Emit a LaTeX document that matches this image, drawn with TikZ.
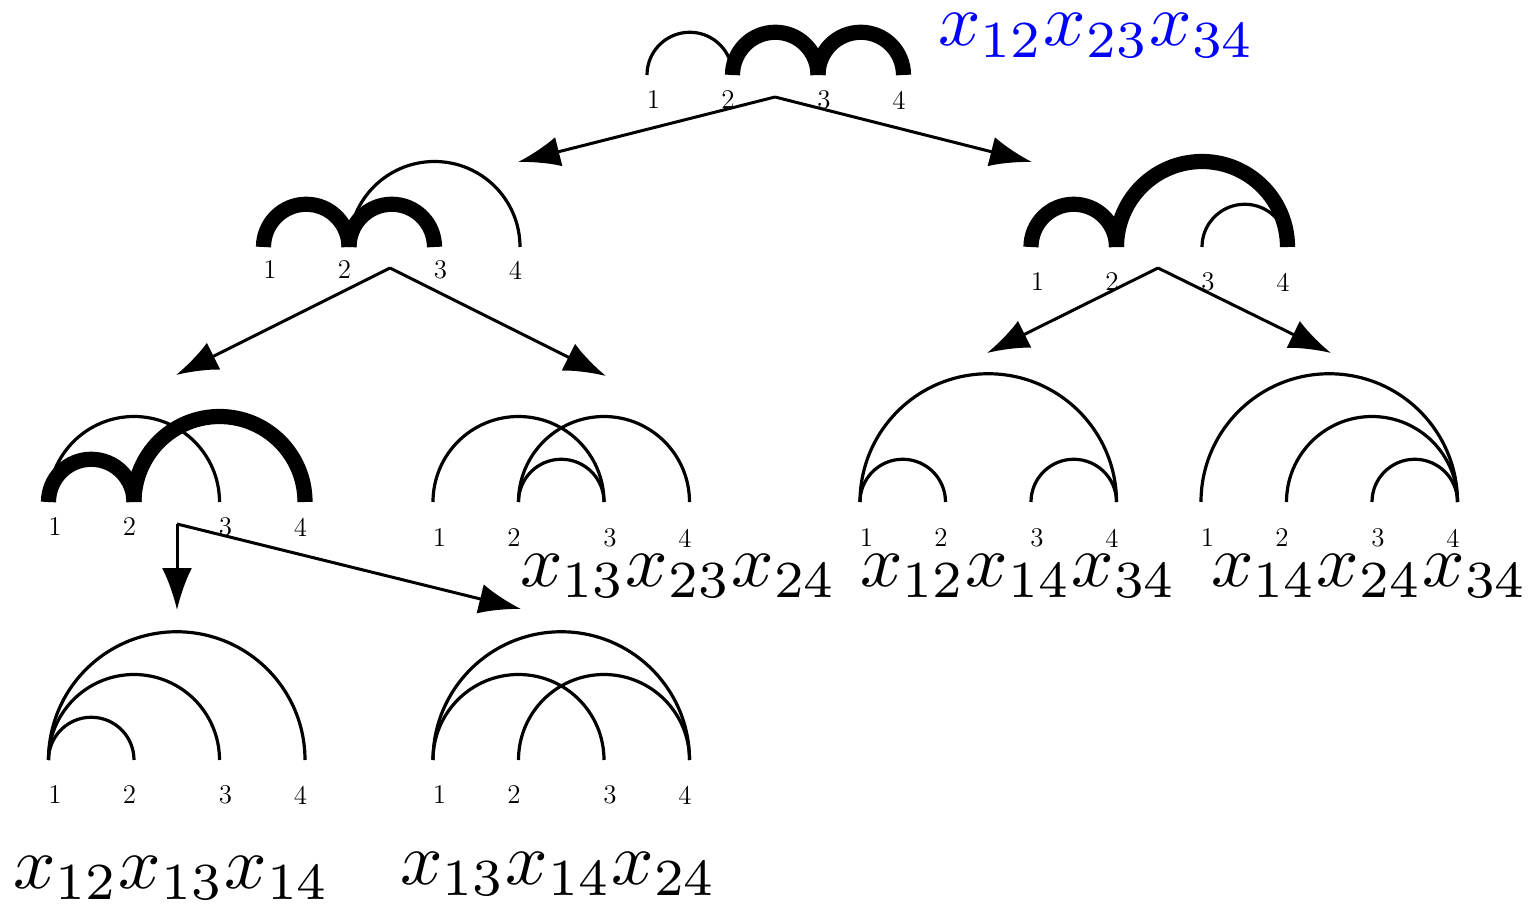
\documentclass[tikz,border=0pt]{standalone}
\usepackage{graphicx}
\usetikzlibrary{arrows.meta}

% one unit = half a point, y measured upwards (rows are given as negative values)
\tikzset{
  x=0.5pt, y=0.5pt,
  thinarc/.style={line width=1.6pt, line cap=butt},
  thickarc/.style={line width=7.6pt, line cap=butt},
  lab/.style={inner sep=0pt, font=\fontsize{13.5}{15}\selectfont},
  mono/.style={inner sep=0pt, anchor=base west},
  arr/.style={line width=1.5pt, -{Latex[length=21pt, width=15pt]}},
}
% monomials are set at normal size and enlarged
\newcommand\bigmono[1]{\scalebox{3.72}{$#1$}}

% four vertices of a chord diagram plus their labels
% #1 name, #2 x of vertex 1, #3 baseline row, #4 label drop
\newcommand\vertexrow[4]{%
  \foreach \k/\dx/\lx in {1/0/6.5, 2/85.5/81, 3/171/177, 4/256.5/252} {
    \coordinate (#1-\k) at ({#2+\dx},{-#3});
    \node[lab] (#1-l\k) at ({#2+\lx},{-#3-#4}) {\k};
  }}

% semicircular chord from vertex #2 to vertex #3 of diagram #1
\newcommand\chord[4]{%
  \draw[#4] (#1-#2) arc[start angle=180, end angle=0, radius={(#3-#2)*21.375pt}];}

\begin{document}
\begin{tikzpicture}
\useasboundingbox (0,0) rectangle (1533,-909);

% ---- root
\vertexrow{A}{647}{75}{25}
\chord{A}{1}{2}{thinarc}
\chord{A}{2}{3}{thickarc}
\chord{A}{3}{4}{thickarc}
\node[mono, text=blue] (mA) at (938,-46) {\bigmono{x_{12}x_{23}x_{34}}};

% ---- second level
\vertexrow{B}{263.5}{247}{23}
\chord{B}{2}{4}{thinarc}
\chord{B}{1}{2}{thickarc}
\chord{B}{2}{3}{thickarc}

\vertexrow{C}{1031}{247}{35}
\chord{C}{3}{4}{thinarc}
\chord{C}{1}{2}{thickarc}
\chord{C}{2}{4}{thickarc}

% ---- third level
\vertexrow{D}{48.5}{502}{25}
\chord{D}{1}{3}{thinarc}
\chord{D}{1}{2}{thickarc}
\chord{D}{2}{4}{thickarc}

\vertexrow{E}{433}{502}{36}
\chord{E}{1}{3}{thinarc}
\chord{E}{2}{4}{thinarc}
\chord{E}{2}{3}{thinarc}
\node[mono] (mE) at (520,-586) {\bigmono{x_{13}x_{23}x_{24}}};

\vertexrow{F}{860}{502}{36}
\chord{F}{1}{4}{thinarc}
\chord{F}{1}{2}{thinarc}
\chord{F}{3}{4}{thinarc}
\node[mono] (mF) at (860,-586) {\bigmono{x_{12}x_{14}x_{34}}};

\vertexrow{G}{1201}{502}{36}
\chord{G}{1}{4}{thinarc}
\chord{G}{2}{4}{thinarc}
\chord{G}{3}{4}{thinarc}
\node[mono] (mG) at (1211,-586) {\bigmono{x_{14}x_{24}x_{34}}};

% ---- fourth level
\vertexrow{H}{48.5}{760}{35}
\chord{H}{1}{2}{thinarc}
\chord{H}{1}{3}{thinarc}
\chord{H}{1}{4}{thinarc}
\node[mono] (mH) at (13,-888) {\bigmono{x_{12}x_{13}x_{14}}};

\vertexrow{I}{433}{760}{35}
\chord{I}{1}{3}{thinarc}
\chord{I}{2}{4}{thinarc}
\chord{I}{1}{4}{thinarc}
\node[mono] (mI) at (400,-884) {\bigmono{x_{13}x_{14}x_{24}}};

% ---- branching points and arrow targets
\coordinate (A-out) at (775,-97);
\coordinate (B-in)  at (518,-162);
\coordinate (C-in)  at (1032,-162);
\coordinate (B-out) at (390,-268);
\coordinate (D-in)  at (176,-375);
\coordinate (E-in)  at (606,-376);
\coordinate (C-out) at (1158,-268);
\coordinate (F-in)  at (987,-353);
\coordinate (G-in)  at (1331,-353);
\coordinate (D-out) at (177,-524);
\coordinate (H-in)  at (177,-610);
\coordinate (I-in)  at (521,-609);

\draw[arr] (A-out) -- (B-in);
\draw[arr] (A-out) -- (C-in);
\draw[arr] (B-out) -- (D-in);
\draw[arr] (B-out) -- (E-in);
\draw[arr] (C-out) -- (F-in);
\draw[arr] (C-out) -- (G-in);
\draw[arr] (D-out) -- (H-in);
\draw[arr] (D-out) -- (I-in);
\end{tikzpicture}
\end{document}
